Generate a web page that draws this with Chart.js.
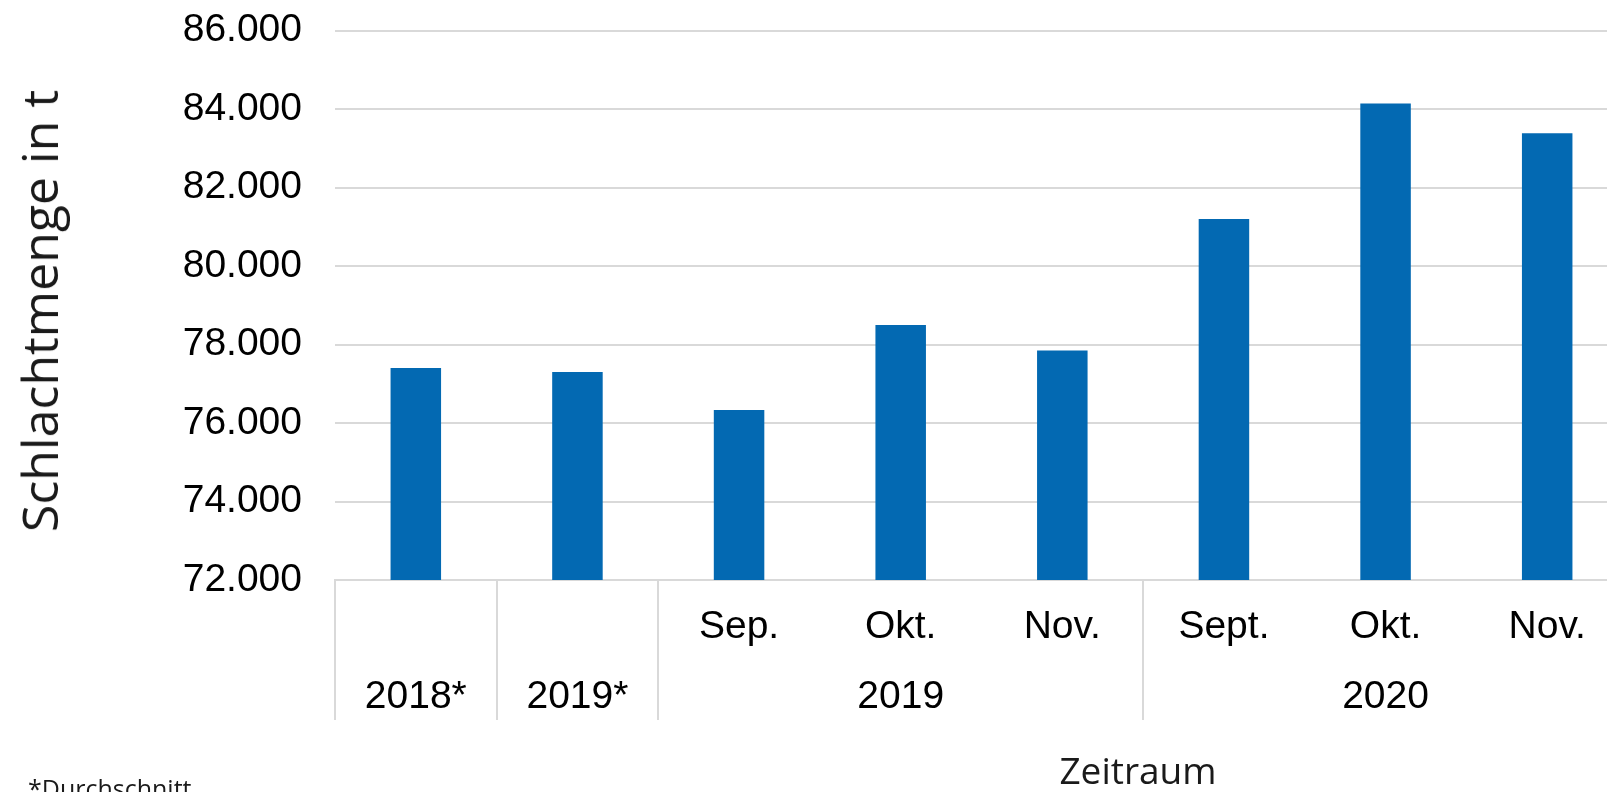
<!DOCTYPE html>
<html lang="de">
<head>
<meta charset="utf-8">
<title>Schlachtmenge in t</title>
<script src="https://cdn.jsdelivr.net/npm/chart.js@4/dist/chart.umd.min.js"></script>
<style>
  html, body { margin:0; padding:0; background:#fff; overflow:hidden; }
  /* the original chart is cut off at the right edge, so the canvas is a bit wider than the window */
  .chart-wrap { position:relative; width:1630px; height:792px; }
  .y-title { position:absolute; left:39px; top:311px; transform:translate(-50%, -50%) rotate(-90deg);
    font-family:'Open Sans', sans-serif; font-size:50px; line-height:1; color:#1a1a1a; white-space:nowrap; }
  .x-title { position:absolute; left:1138px; top:751px; transform:translateX(-50%);
    font-family:'Open Sans', sans-serif; font-size:37px; line-height:1; color:#1a1a1a; white-space:nowrap; }
  .note { position:absolute; left:28px; top:776px;
    font-family:'Open Sans', sans-serif; font-size:25px; line-height:1; color:#1a1a1a; white-space:nowrap; }
</style>
</head>
<body>
<div class="chart-wrap">
  <canvas id="schlachtChart"></canvas>
  <div class="y-title">Schlachtmenge in t</div>
  <div class="x-title">Zeitraum</div>
  <div class="note">*Durchschnitt</div>
</div>
<script>
// Daten
const monate = ['', '', 'Sep.', 'Okt.', 'Nov.', 'Sept.', 'Okt.', 'Nov.'];
const jahre = ['2018*', '2019*', '', '2019', '', '', '2020', ''];
const schlachtmenge = [77400, 77300, 76330, 78500, 77850, 81200, 84140, 83380];
const yMin = 72000, yMax = 86000, yStep = 2000;
const trennlinien = [0, 1, 2, 5]; // Gruppengrenzen unter der Achse

const labels = monate.map((m, i) => [m, jahre[i]]);
const fmt = v => String(v).replace(/\B(?=(\d{3})+(?!\d))/g, '.');
const tickFont = { family: "'Liberation Sans', Arial, sans-serif", size: 39 };
const unsichtbar = 'rgba(0,0,0,0)';

new Chart(document.getElementById('schlachtChart'), {
  type: 'bar',
  data: {
    labels,
    datasets: [{ label: 'Schlachtmenge', data: schlachtmenge, backgroundColor: '#0369b2',
      barPercentage: 0.3125, categoryPercentage: 1 }]
  },
  options: {
    responsive: true, maintainAspectRatio: false, animation: false,
    layout: { padding: { top: 30.5, left: 0, right: 2, bottom: 0 } },
    plugins: { legend: { display: false }, tooltip: { enabled: false } },
    scales: {
      x: {
        grid: {
          drawOnChartArea: false, lineWidth: 2, tickLength: 140,
          color: '#d9d9d9',
          tickColor: ctx => trennlinien.includes(ctx.index) ? '#d9d9d9' : unsichtbar
        },
        border: { display: true, color: '#d9d9d9', width: 2 },
        ticks: { color: '#000', font: { ...tickFont, lineHeight: 70 / 39 }, padding: -128,
          autoSkip: false, maxRotation: 0 },
        afterFit: s => { s.height = 212; }
      },
      y: {
        min: yMin, max: yMax,
        // invisible tick marks give the gap to the labels (tick padding would also pad the top)
        grid: { color: '#d9d9d9', lineWidth: 2, tickLength: 33, tickColor: unsichtbar },
        border: { display: false },
        ticks: { stepSize: yStep, color: '#000', font: tickFont, padding: 0, callback: v => fmt(v) },
        afterFit: s => { s.width = 335; }
      }
    }
  }
});
</script>
</body>
</html>
